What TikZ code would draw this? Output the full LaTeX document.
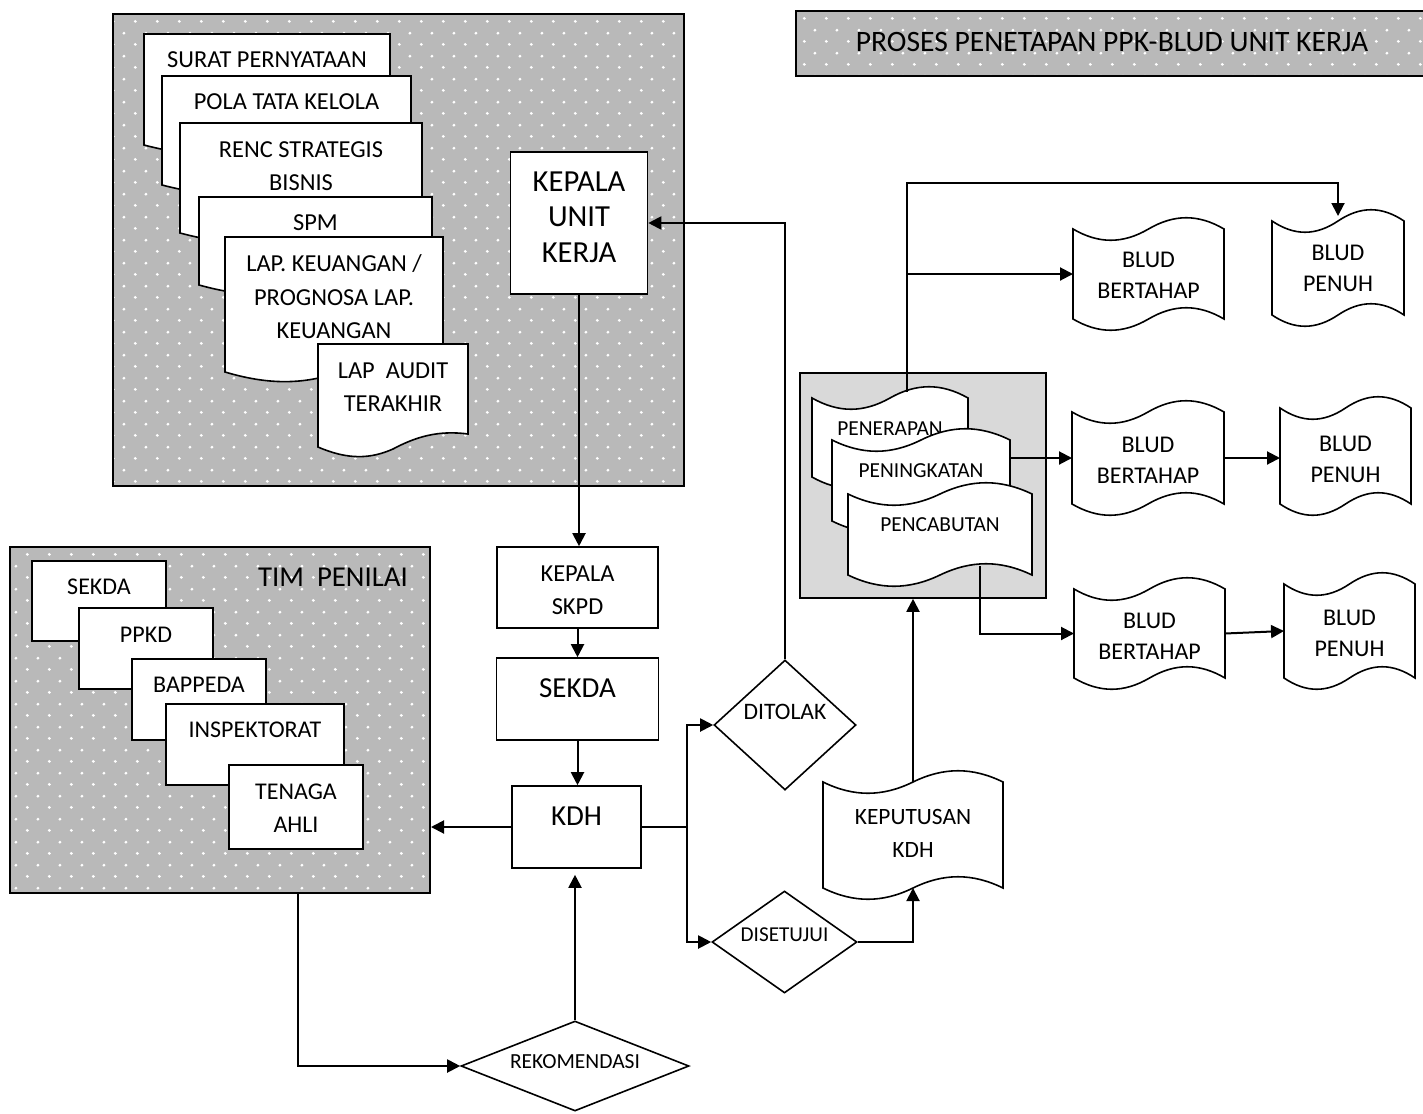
\documentclass[tikz,border=0pt]{standalone}
\usepackage{fontspec}
\setmainfont{Carlito}
\usetikzlibrary{arrows.meta,shapes.geometric,patterns.meta}

\tikzdeclarepattern{
  name=sparkle,
  type=uncolored,
  bounding box={(0pt,0pt) and (10.8pt,11.6pt)},
  tile size={(10.8pt,11.6pt)},
  code={
    \fill (2.7pt,2.9pt) circle (0.8pt);
    \fill (8.1pt,8.7pt) circle (0.8pt);
  }
}

% document: name, left, top, right, bottom (left corner), text y, text
\newcommand{\docu}[7]{%
  \draw[paper] (#2,#3) -- (#4,#3) -- (#4,#5-13)
    .. controls ({#2+0.8*(#4-#2)},#5-17) and ({#2+0.65*(#4-#2)},#5-10) .. ({#2+0.5*(#4-#2)},#5+2)
    .. controls ({#2+0.35*(#4-#2)},#5+12) and ({#2+0.2*(#4-#2)},#5+13) .. (#2,#5) -- cycle;
  \node[doctext] (#1) at ({(#2+#4)/2},#6) {#7};
}

% tape: name, left, top, right, bottom, text y, text
\newcommand{\tape}[7]{%
  \draw[paper] (#2,#3) .. controls ({#2+0.17*(#4-#2)},#3+15) and ({#2+0.33*(#4-#2)},#3+15) .. ({(#2+#4)/2},#3)
    .. controls ({#2+0.67*(#4-#2)},#3-15) and ({#2+0.83*(#4-#2)},#3-15) .. (#4,#3) -- (#4,#5)
    .. controls ({#2+0.83*(#4-#2)},#5-15) and ({#2+0.67*(#4-#2)},#5-15) .. ({(#2+#4)/2},#5)
    .. controls ({#2+0.33*(#4-#2)},#5+15) and ({#2+0.17*(#4-#2)},#5+15) .. (#2,#5) -- cycle;
  \coordinate (#1-w) at (#2,{(#3+#5)/2});
  \coordinate (#1-e) at (#4,{(#3+#5)/2});
  \node[tapetext] (#1) at ({(#2+#4)/2},#6) {#7};
}

\begin{document}
\begin{tikzpicture}[x=0.5pt,y=-0.5pt]
\tikzstyle{panel}=[draw=black,line width=1pt,preaction={fill=gray!55},pattern=sparkle,pattern color=white,inner sep=0pt]
\tikzstyle{box}=[draw=black,line width=0.8pt,fill=white,inner sep=0pt]
\tikzstyle{diam}=[diamond,draw=black,line width=0.8pt,fill=white,inner sep=0pt]
\tikzstyle{paper}=[draw=black,line width=0.8pt,fill=white]
\tikzstyle{lbl}=[inner sep=0pt,align=center]
\tikzstyle{doctext}=[lbl,font=\fontsize{12.2}{16.75}\selectfont]
\tikzstyle{tapetext}=[lbl,font=\fontsize{12}{15.5}\selectfont]
\tikzstyle{conn}=[line width=1pt]
\tikzstyle{arr}=[conn,-{Triangle[length=6.5pt,width=6.5pt]}]
\useasboundingbox (0,0) rectangle (1423,1113);

% berkas usulan
\node[panel,minimum width=285.5pt,minimum height=236pt] (berkas) at (398.5,250) {};
\docu{surat}{144}{34}{390}{145}{60}{SURAT PERNYATAAN}
\docu{pola}{162}{76}{411}{185}{102}{POLA TATA KELOLA}
\docu{renc}{180}{123}{422}{233}{166}{RENC STRATEGIS\\BISNIS}
\docu{spm}{199}{197}{432}{285}{223}{SPM}
\docu{lapkeu}{225}{237}{443}{372}{297}{LAP. KEUANGAN /\\PROGNOSA LAP.\\KEUANGAN}
\docu{audit}{318}{344}{468}{447}{387}{LAP\ \ AUDIT\\TERAKHIR}
\node[box,minimum width=68.5pt,minimum height=71pt] (kuk) at (579,223) {};
\node[lbl,font=\fontsize{15.3}{17.75}\selectfont] (kuk-t) at (579,217) {KEPALA\\UNIT\\KERJA};

% judul
\node[panel,minimum width=315pt,minimum height=32.5pt] (judul) at (1111,43.5) {};
\node[lbl,font=\fontsize{14.8}{17}\selectfont] (judul-t) at (1112,42) {PROSES PENETAPAN PPK-BLUD UNIT KERJA};

% tim penilai
\node[panel,minimum width=210pt,minimum height=173pt] (tim) at (220,720) {};
\node[lbl,font=\fontsize{14.4}{17}\selectfont] (tim-t) at (333,577) {TIM\ \ PENILAI};
\node[box,minimum width=67pt,minimum height=40pt] (b-sekda) at (99,601) {};
\node[lbl,font=\fontsize{12}{16.5}\selectfont] (b-sekda-t) at (99,587) {SEKDA};
\node[box,minimum width=67pt,minimum height=40.5pt] (b-ppkd) at (146,648.5) {};
\node[lbl,font=\fontsize{12}{16.5}\selectfont] (b-ppkd-t) at (146,635) {PPKD};
\node[box,minimum width=67pt,minimum height=40.5pt] (b-bappeda) at (199,699.5) {};
\node[lbl,font=\fontsize{12}{16.5}\selectfont] (b-bappeda-t) at (199,685) {BAPPEDA};
\node[box,minimum width=89pt,minimum height=40.5pt] (b-insp) at (255,744.5) {};
\node[lbl,font=\fontsize{12}{16.5}\selectfont] (b-insp-t) at (255,730) {INSPEKTORAT};
\node[box,minimum width=67pt,minimum height=42pt] (b-ahli) at (296,807) {};
\node[lbl,font=\fontsize{12}{16.5}\selectfont] (b-ahli-t) at (296,808.5) {TENAGA\\AHLI};

% alur tengah
\node[box,minimum width=80.5pt,minimum height=40.5pt] (skpd) at (577.5,587.5) {};
\node[lbl,font=\fontsize{12.2}{16.5}\selectfont] (skpd-t) at (577.5,590.5) {KEPALA\\SKPD};
\node[box,minimum width=81pt,minimum height=41pt] (sekda) at (577.5,699) {};
\node[lbl,font=\fontsize{14.5}{17}\selectfont] (sekda-t) at (577.5,688) {SEKDA};
\node[box,minimum width=64.5pt,minimum height=41pt] (kdh) at (576.5,827) {};
\node[lbl,font=\fontsize{14.5}{17}\selectfont] (kdh-t) at (576.5,816) {KDH};
\node[diam,minimum width=71pt,minimum height=65pt] (ditolak) at (785,725) {};
\node[lbl,font=\fontsize{11.8}{13}\selectfont] (ditolak-t) at (785,712) {DITOLAK};
\node[diam,minimum width=72.5pt,minimum height=51pt] (setuju) at (784.5,942) {};
\node[lbl,font=\fontsize{10.6}{12}\selectfont] (setuju-t) at (784.5,935) {DISETUJUI};
\node[diam,minimum width=114pt,minimum height=45pt] (rekom) at (575,1066) {};
\node[lbl,font=\fontsize{10.75}{12}\selectfont] (rekom-t) at (575,1062) {REKOMENDASI};
\begin{scope}[tapetext/.append style={font=\fontsize{11.7}{16.5}\selectfont}]
\tape{kep}{823}{782}{1003}{888}{833}{KEPUTUSAN\\KDH}
\end{scope}

% penetapan
\node[box,fill=gray!30,minimum width=123pt,minimum height=112.5pt] (grp) at (923,485.5) {};
\begin{scope}[tapetext/.append style={font=\fontsize{10.7}{12}\selectfont}]
\tape{penerapan}{812}{398}{968}{477}{429}{PENERAPAN}
\tape{peningkatan}{832}{440}{1010}{521}{471}{PENINGKATAN}
\tape{pencabutan}{848}{494}{1032}{575}{525}{PENCABUTAN}
\end{scope}
\tape{bt1}{1073}{229}{1224}{319}{275}{BLUD\\BERTAHAP}
\tape{pn1}{1272}{221}{1404}{315}{268}{BLUD\\PENUH}
\tape{bt2}{1072}{412}{1224}{504}{460}{BLUD\\BERTAHAP}
\tape{pn2}{1280}{408}{1411}{504}{459}{BLUD\\PENUH}
\tape{bt3}{1074}{589}{1225}{678}{636}{BLUD\\BERTAHAP}
\tape{pn3}{1284}{584}{1415}{678}{633}{BLUD\\PENUH}

\coordinate (tim-s) at (298,893);
\coordinate (split) at (687,827);
\coordinate (kep-s) at (913,888);
\coordinate (kep-n) at (913,782);
\coordinate (pen-top) at (907,392);
\coordinate (up) at (907,183);
\coordinate (fork) at (907,274);
\coordinate (pn1-n) at (1338,216);
\coordinate (ping-e) at (1010,458);
\coordinate (pc-s) at (980,566);

\draw[arr] (kuk.south) -- (kuk.south |- skpd.north);
\draw[arr] (skpd.south) -- (sekda.north);
\draw[arr] (sekda.south) -- (sekda.south |- kdh.north);
\draw[arr] (kdh.west) -- (kdh.west -| tim.east);
\draw[arr] (tim-s) |- (rekom.west);
\draw[arr,shorten >=3pt] (rekom.north) -- (rekom.north |- kdh.south);
\draw[conn] (kdh.east) -- (split);
\draw[arr] (split) |- (ditolak.west);
\draw[arr] (split) |- (setuju.west);
\draw[arr] (ditolak.north) |- (kuk.east);
\draw[arr] (setuju.east) -| (kep-s);
\draw[arr] (kep-n) -- (kep-n |- grp.south);
\draw[arr] (pen-top) -- (up) -| (pn1-n);
\draw[arr] (fork) -- (bt1-w);
\draw[arr] (ping-e) -- (bt2-w);
\draw[arr] (bt2-e) -- (bt2-e -| pn2-w);
\draw[arr] (pc-s) |- (bt3-w);
\draw[arr] (bt3-e) -- (pn3-w);
\end{tikzpicture}
\end{document}
